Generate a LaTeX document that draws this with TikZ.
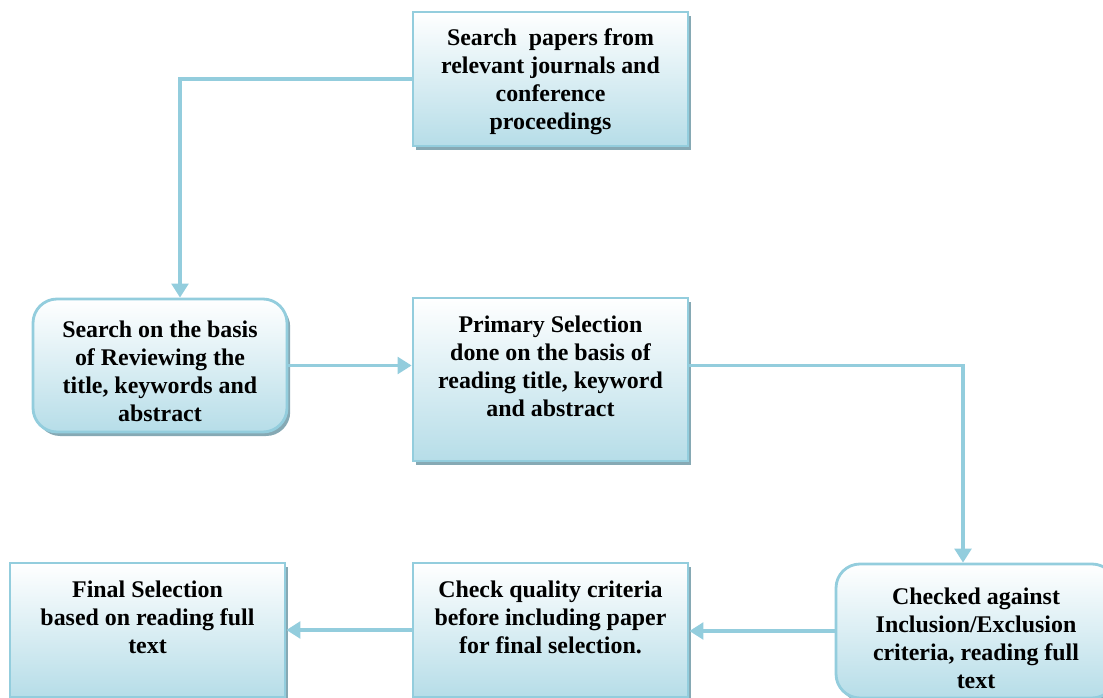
\documentclass[tikz,border=0pt]{standalone}
\usepackage{fontspec}
\setmainfont{Liberation Serif}
\usepackage{tikz}
\usetikzlibrary{arrows.meta,positioning,shadows}
\definecolor{edgeblue}{HTML}{93CDDD}
\definecolor{fillblue}{HTML}{B6DDE8}
\definecolor{shadowblue}{HTML}{86A9B4}
\tikzset{
  stepbox/.style={draw=edgeblue,line width=2pt,top color=white,bottom color=fillblue,
    minimum width=6.875cm,minimum height=3.35cm,inner sep=0pt,
    drop shadow={shadow xshift=0.08cm,shadow yshift=-0.1cm,fill=shadowblue,opacity=1}},
  roundbox/.style={stepbox,rounded corners=0.6cm},
  boxtext/.style={align=center,inner sep=0pt,font=\fontsize{17}{19.9}\selectfont\bfseries},
  flow/.style={draw=edgeblue,line width=2.2pt,-{Triangle[length=0.35cm,width=0.42cm]}}
}
\begin{document}
\begin{tikzpicture}
\useasboundingbox (0,0) rectangle (27.575,17.425);
\clip (0,0) rectangle (27.575,17.425);
% boxes
\node [stepbox] (search) at (13.7625,15.45) {};
\node [roundbox,minimum width=6.35cm,minimum height=3.325cm] (review) at (4.0,8.2875) {};
\node [stepbox,minimum height=4.075cm] (primary) at (13.7625,7.9375) {};
\node [roundbox,minimum width=7cm] (checked) at (24.4,1.65) {};
\node [stepbox] (quality) at (13.7625,1.675) {};
\node [stepbox] (final) at (3.6875,1.675) {};
% texts
\node [boxtext,below=0.45cm of search.north] (searchtxt) {Search\ \ papers from\\relevant journals and\\conference\\proceedings};
\node [boxtext,below=0.575cm of review.north] (reviewtxt) {Search on the basis\\of Reviewing the\\title, keywords and\\abstract};
\node [boxtext,below=0.475cm of primary.north] (primarytxt) {Primary Selection\\done on the basis of\\reading title, keyword\\and abstract};
\node [boxtext,below=0.625cm of checked.north] (checkedtxt) {Checked against\\Inclusion/Exclusion\\criteria, reading full\\text};
\node [boxtext,below=0.475cm of quality.north] (qualitytxt) {Check quality criteria\\before including paper\\for final selection.};
\node [boxtext,below=0.475cm of final.north] (finaltxt) {Final Selection\\based on reading full\\text};
% connectors
\draw [flow] (search.west) -| ([xshift=0.5cm]review.north);
\draw [flow] (review.east) -- (primary.west |- review.east);
\draw [flow] (primary.east |- review.east) -| ([xshift=-0.325cm]checked.north);
\draw [flow] (checked.west) -- (quality.east |- checked.west);
\draw [flow] (quality.west) -- (final.east);
\end{tikzpicture}
\end{document}
